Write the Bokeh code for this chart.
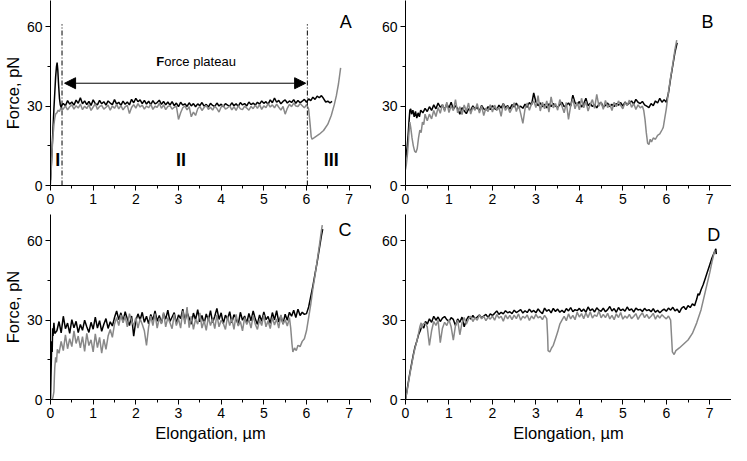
from bokeh.plotting import figure
from bokeh.layouts import gridplot
from bokeh.models import Range1d, FixedTicker, Arrow, NormalHead
from bokeh.core.properties import value
from bokeh.embed import file_html
from bokeh.resources import INLINE

# ---------------- axes / ticks ----------------
X_RANGE = (0, 7.5)
Y_RANGE = (0, 70)
X_TICKS = [0, 1, 2, 3, 4, 5, 6, 7]
X_MINOR = [0.5, 1.5, 2.5, 3.5, 4.5, 5.5, 6.5, 7.5]
Y_TICKS = [0, 30, 60]
Y_MINOR = [15, 45]
X_LABEL = "Elongation, µm"
Y_LABEL = "Force, pN"
STEP = 0.05  # sampling interval (µm) of the plateau readings

# ---------------- Panel A ----------------
A_black_head_x = [0, 0.02, 0.04, 0.06, 0.08, 0.10, 0.12, 0.14, 0.155, 0.17, 0.19, 0.21, 0.23, 0.25, 0.27]
A_black_head_y = [2, 8, 15, 22, 29, 35, 41, 45, 46.5, 44, 38, 33, 30.5, 29.5, 30.5]
A_black_plat_x0 = 0.30
A_black_plat_y = [
    31.0, 30.2, 32.1, 30.8, 31.6, 30.4, 32.3, 31.1, 33.2, 30.9,
    32.0, 30.6, 31.8, 30.3, 32.4, 31.0, 30.5, 32.2, 30.9, 31.7,
    30.4, 32.0, 31.2, 30.6, 32.5, 30.8, 31.5, 30.3, 31.9, 30.7,
    31.6, 30.5, 32.6, 31.3, 33.0, 31.7, 32.4, 31.0, 32.2, 30.8,
    31.9, 30.6, 32.1, 30.9, 31.4, 32.3, 30.7, 31.8, 30.5, 31.6,
    30.4, 31.7, 30.2, 31.2, 29.8, 31.5, 30.4, 30.9, 29.9, 31.3,
    30.1, 31.0, 29.8, 30.9, 30.2, 31.4, 30.0, 30.7, 29.7, 31.1,
    30.3, 29.9, 31.2, 30.1, 30.8, 29.8, 31.0, 30.4, 30.0, 31.3,
    30.2, 30.9, 29.9, 31.4, 30.5, 31.0, 30.1, 31.6, 30.6, 31.2,
    30.4, 31.5, 30.8, 32.0, 31.1, 31.7, 30.7, 32.4, 31.3, 33.1,
    31.5, 32.2, 30.9, 31.8, 32.4, 31.2, 32.0, 31.4, 32.5, 31.1,
    32.2, 31.3, 31.9, 32.6, 31.5, 32.8, 32.1, 33.4, 32.6, 33.8,
    33.2, 34.0, 32.9, 31.6, 31.9, 31.3, 31.8]

A_gray_head_x = [0, 0.02, 0.04, 0.06, 0.08, 0.10, 0.12, 0.15, 0.18, 0.21, 0.24, 0.27]
A_gray_head_y = [0.5, 7, 14, 19, 23, 25.5, 27, 27.5, 28.5, 28, 29.2, 28.6]
A_gray_plat_x0 = 0.30
A_gray_plat_y = [
    29.0, 30.1, 28.6, 29.8, 30.5, 28.9, 30.2, 29.3, 30.8, 28.7,
    30.0, 29.1, 30.6, 28.4, 29.7, 30.9, 28.8, 29.9, 30.3, 28.9,
    29.6, 30.4, 28.5, 30.1, 29.2, 30.7, 29.0, 30.2, 28.6, 29.8,
    30.3, 27.2, 29.5, 30.6, 29.3, 31.0, 29.7, 30.4, 28.9, 30.1,
    29.4, 30.8, 28.8, 30.0, 29.6, 31.1, 29.2, 30.5, 28.7, 29.9,
    30.2, 28.9, 29.6, 30.0, 25.0, 27.5, 29.4, 30.1, 28.6, 29.8,
    26.0, 27.8, 26.5, 29.0, 29.9, 28.4, 29.5, 30.3, 28.8, 29.6,
    28.5, 30.0, 29.1, 27.8, 29.7, 30.4, 28.9, 29.4, 30.1, 28.6,
    29.8, 28.4, 30.2, 29.0, 28.7, 30.0, 29.3, 28.5, 29.9, 29.1,
    30.4, 29.2, 30.6, 28.8, 30.1, 29.5, 31.0, 29.7, 30.5, 29.4,
    30.8, 29.6, 28.5, 29.9, 27.0, 29.2, 30.7, 29.8, 31.2, 30.1,
    29.9, 31.0, 30.2, 29.4, 30.6, 29.0]
A_gray_tail_x = [6.08, 6.11, 6.13, 6.20, 6.30, 6.40, 6.50, 6.58, 6.65, 6.70, 6.75, 6.80]
A_gray_tail_y = [24, 18.5, 17.5, 18.3, 19.4, 20.8, 23.2, 26.5, 30.5, 34, 38.5, 44.5]

# annotations of panel A
A_phase_bounds = [0.27, 6.02]
A_phase_top = 61
A_arrow = (0.33, 5.98, 38.7)
A_plateau_text = (2.48, 47)
A_phase_names = ["I", "II", "III"]
A_phase_x = [0.17, 3.06, 6.58]
A_phase_y = [9.8, 9.8, 9.8]

# ---------------- Panel B ----------------
B_black_head_x = [0, 0.02, 0.04, 0.06, 0.08, 0.10, 0.12, 0.14, 0.17, 0.20, 0.23, 0.26, 0.29, 0.32, 0.35]
B_black_head_y = [10, 12, 15, 19, 24, 28.5, 29, 27, 28.5, 26, 28, 25.5, 27.5, 26, 28.5]
B_black_plat_x0 = 0.40
B_black_plat_y = [
    27.5, 29.2, 28.0, 29.8, 28.4, 30.5, 29.0, 31.2, 29.6, 30.4,
    28.6, 30.9, 29.3, 31.5, 28.8, 30.2, 29.1, 27.0, 29.4, 28.3,
    27.2, 29.0, 28.4, 30.1, 28.9, 29.6, 28.2, 30.3, 29.0, 28.5,
    29.8, 28.7, 30.2, 29.1, 28.6, 30.4, 29.3, 31.0, 29.5, 30.2,
    28.9, 30.6, 29.7, 31.2, 29.4, 30.0, 29.2, 30.8, 29.6, 31.4,
    30.5, 35.0, 31.6, 30.2, 31.3, 29.8, 30.7, 29.4, 30.9, 29.9,
    31.0, 30.1, 29.5, 30.6, 31.5, 29.8, 30.4, 31.2, 30.0, 34.2,
    31.3, 30.5, 31.8, 29.7, 30.9, 33.0, 30.2, 31.1, 29.9, 30.6,
    29.4, 30.8, 31.5, 29.6, 30.3, 31.2, 29.8, 30.7, 29.9, 31.0,
    30.4, 31.4, 30.0, 31.6, 30.5, 31.2, 32.0, 30.8, 32.6, 31.5,
    31.0, 31.8, 30.5, 30.0, 29.5, 31.0, 30.2, 32.0, 31.2, 33.0,
    31.5, 32.5]
B_black_tail_x = [6.00, 6.05, 6.10, 6.15, 6.20, 6.25]
B_black_tail_y = [31.5, 35, 40.5, 45.5, 50.5, 54]

B_gray_head_x = [0, 0.02, 0.04, 0.06, 0.08, 0.10, 0.12, 0.15, 0.18, 0.21, 0.24, 0.27, 0.30, 0.33, 0.36, 0.39, 0.42, 0.45]
B_gray_head_y = [6, 8, 11, 15, 20, 24, 22, 18, 15, 13, 12.5, 14, 18, 21, 20, 24, 23, 27]
B_gray_plat_x0 = 0.50
B_gray_plat_y = [
    24.5, 27.0, 25.2, 28.4, 26.1, 29.5, 27.3, 30.8, 28.0, 31.5,
    27.6, 30.2, 28.3, 32.5, 27.5, 29.8, 26.8, 30.5, 28.1, 31.2,
    27.0, 29.6, 28.5, 31.0, 27.4, 30.1, 26.5, 29.3, 28.0, 30.6,
    27.8, 30.4, 28.6, 29.5, 26.2, 31.0, 28.4, 30.0, 27.6, 29.2,
    31.3, 28.0, 30.5, 27.2, 23.5, 29.0, 31.2, 28.5, 30.9, 32.0,
    29.5, 34.0, 28.2, 31.5, 29.0, 32.0, 27.8, 33.5, 29.4, 31.0,
    28.5, 32.5, 30.0, 27.5, 31.4, 25.0, 30.2, 32.8, 29.0, 31.5,
    28.6, 33.0, 29.4, 31.8, 28.2, 30.6, 32.5, 29.2, 34.5, 30.0,
    31.6, 28.8, 32.2, 29.5, 30.8, 28.4, 31.5, 29.8, 32.0, 30.3,
    29.0, 31.4, 30.2, 32.3, 29.6, 31.0, 28.8, 30.5, 29.4, 30.0]
B_gray_tail_x = [5.48, 5.51, 5.54, 5.57, 5.60, 5.63, 5.66, 5.70, 5.75, 5.80, 5.85, 5.90, 5.93, 5.96,
                 6.00, 6.05, 6.10, 6.15, 6.20, 6.24]
B_gray_tail_y = [28.5, 25, 20, 16, 15.5, 17.5, 16.5, 18, 17.5, 19, 19.5, 21, 22, 25,
                 29, 35.5, 41, 46, 51.5, 55]

# ---------------- Panel C ----------------
C_black_head_x = [0, 0.01, 0.02, 0.03, 0.04, 0.05, 0.06, 0.08, 0.10]
C_black_head_y = [0, 8, 15, 22, 18, 27, 24, 29, 25]
C_black_plat_x0 = 0.15
C_black_plat_y = [
    26.0, 29.5, 25.2, 31.5, 26.8, 28.9, 25.0, 30.2, 27.1, 29.6,
    25.3, 28.4, 26.2, 30.0, 27.5, 25.4, 29.2, 26.6, 31.2, 27.0,
    29.8, 25.8, 28.5, 30.6, 26.9, 29.4, 27.8, 31.0, 33.5, 30.2,
    32.8, 29.5, 33.2, 30.5, 28.0, 31.6, 24.0, 29.8, 32.4, 30.1,
    33.0, 29.2, 31.5, 28.6, 32.2, 30.0, 33.5, 29.6, 31.8, 28.9,
    32.5, 30.4, 33.8, 29.5, 31.2, 32.9, 28.8, 32.0, 30.6, 34.2,
    29.7, 33.0, 30.8, 28.5, 32.7, 30.2, 34.0, 29.4, 31.8, 28.6,
    32.4, 30.0, 33.6, 29.1, 31.5, 34.5, 30.3, 32.8, 28.7, 31.9,
    30.4, 33.2, 29.0, 32.1, 30.7, 28.2, 33.0, 30.0, 31.6, 28.9,
    32.6, 29.8, 33.5, 30.5, 28.4, 32.0, 29.6, 33.1, 30.2, 31.4,
    28.8, 32.9, 30.1, 33.6, 29.3, 31.7, 28.5, 32.3, 30.0, 33.0,
    31.5, 33.8, 31.0, 34.2, 31.8, 33.0, 32.2]
C_black_tail_x = [6.00, 6.05, 6.10, 6.15, 6.20, 6.25, 6.30, 6.35, 6.38]
C_black_tail_y = [32.5, 35, 39, 43, 47.5, 52, 57, 62, 64.5]

C_gray_head_x = [0.04, 0.06, 0.08, 0.09, 0.10, 0.12, 0.14, 0.16]
C_gray_head_y = [0, 1, 3, 8, 12, 16, 14, 19]
C_gray_plat_x0 = 0.20
C_gray_plat_y = [
    17.5, 22.0, 18.5, 24.5, 19.2, 23.0, 20.0, 26.0, 21.2, 24.0,
    19.5, 23.8, 18.2, 25.0, 20.4, 22.6, 18.0, 24.8, 19.6, 23.5,
    17.5, 22.8, 19.0, 24.0, 26.5, 23.5, 28.5, 31.0, 28.0, 32.0,
    29.0, 31.5, 27.5, 32.5, 29.8, 28.0, 31.0, 27.0, 30.5, 28.5,
    26.0, 20.5, 27.5, 31.5, 28.0, 32.5, 27.0, 30.8, 28.6, 33.0,
    27.5, 31.0, 29.0, 26.8, 32.2, 28.0, 30.5, 27.0, 33.5, 28.5,
    35.0, 27.2, 31.5, 26.5, 30.4, 28.5, 32.8, 27.0, 29.8, 26.2,
    31.2, 28.0, 30.5, 26.8, 32.0, 27.5, 30.0, 28.8, 26.5, 31.5,
    28.0, 30.6, 26.5, 32.2, 27.8, 29.5, 26.0, 31.0, 28.4, 30.2,
    27.0, 31.8, 28.5, 26.5, 30.2, 28.0, 32.0, 27.5, 29.8, 26.8,
    31.0, 28.2, 30.5, 27.0, 32.0, 28.5, 30.2, 27.8, 31.0]
C_gray_tail_x = [5.63, 5.66, 5.68, 5.72, 5.76, 5.80, 5.85, 5.90, 5.95, 6.00, 6.05, 6.10,
                 6.15, 6.20, 6.25, 6.30, 6.35, 6.37]
C_gray_tail_y = [27, 21, 18, 19.5, 18.5, 20.5, 20, 22, 23, 26, 31, 36,
                 42, 47, 52.5, 58, 64, 66]

# ---------------- Panel D ----------------
D_black_head_x = [0, 0.03, 0.06, 0.10, 0.14, 0.18, 0.22, 0.26, 0.30, 0.34, 0.38, 0.42, 0.46]
D_black_head_y = [0, 3, 6, 10, 13.5, 17, 20, 22, 24.5, 26, 28, 27, 29.5]
D_black_plat_x0 = 0.50
D_black_plat_y = [
    28.5, 30.5, 29.2, 31.5, 30.0, 31.2, 29.5, 30.8, 31.4, 30.2,
    29.6, 31.0, 30.3, 28.0, 30.5, 29.2, 31.2, 27.5, 30.0, 31.5,
    30.4, 31.8, 30.6, 31.2, 32.0, 30.9, 31.6, 32.2, 31.0, 32.4,
    31.8, 32.6, 33.5, 32.2, 33.0, 32.4, 33.6, 32.8, 33.2, 32.5,
    33.8, 32.9, 33.4, 34.0, 32.7, 33.6, 32.9, 34.2, 33.1, 33.7,
    32.8, 34.3, 33.2, 32.5, 34.6, 33.4, 34.0, 32.8, 34.5, 33.3,
    34.2, 33.0, 33.8, 32.9, 34.4, 33.5, 34.8, 33.2, 34.0, 33.6,
    34.5, 33.3, 34.2, 33.0, 35.0, 33.6, 34.3, 33.1, 34.7, 33.8,
    33.4, 34.6, 33.2, 34.0, 35.2, 33.5, 34.4, 33.0, 34.8, 33.6,
    34.2, 33.4, 35.0, 33.7, 34.3, 33.1, 34.6, 33.9, 34.1, 33.3,
    34.5, 33.6, 34.0, 33.2, 34.4, 33.0, 33.8, 32.8, 33.6, 34.2,
    33.4, 34.6, 33.8, 34.9, 33.5, 34.2, 32.9, 34.5, 35.2, 34.0]
D_black_tail_x = [6.50, 6.55, 6.60, 6.65, 6.70, 6.73, 6.76, 6.80, 6.85, 6.90, 6.95, 7.00, 7.05, 7.10, 7.14, 7.15]
D_black_tail_y = [35.5, 34.8, 36.2, 35.5, 38, 40, 39.5, 41.5, 43.5, 46, 48.5, 51, 53.5, 55.5, 57, 55]

D_gray_head_x = [0, 0.03, 0.06, 0.10, 0.14, 0.18, 0.22, 0.26, 0.30, 0.33, 0.36, 0.38, 0.40]
D_gray_head_y = [0, 2.5, 5.5, 9.5, 13, 16.5, 19.5, 22, 25, 27.5, 29, 27, 28.5]
D_gray_plat1_x0 = 0.45
D_gray_plat1_y = [
    29.0, 27.5, 20.5, 26.0, 29.5, 28.0, 30.0, 21.5, 27.0, 29.2,
    28.0, 30.2, 27.5, 22.5, 28.0, 30.0, 24.5, 29.0, 31.0, 28.5,
    30.5, 31.5, 29.5, 31.0, 30.0, 32.0, 30.5, 31.5, 29.8, 31.2,
    30.4, 31.6, 30.0, 32.2, 30.8, 31.5, 29.6, 32.0, 30.5, 31.8,
    30.2, 31.9, 30.6, 32.4, 30.0, 31.5, 30.8, 32.0, 29.9, 31.6,
    30.5, 32.2, 30.9, 31.4, 30.2, 31.8, 30.6]
D_gray_drop_x = [3.27, 3.28, 3.32, 3.36, 3.40, 3.45, 3.50, 3.55, 3.60]
D_gray_drop_y = [24, 18.5, 18, 19.5, 20.5, 23, 25.5, 28.5, 30]
D_gray_plat2_x0 = 3.65
D_gray_plat2_y = [
    31.5, 29.8, 32.4, 30.5, 31.8, 30.2, 33.0, 31.2, 32.5, 30.6,
    32.8, 31.0, 33.2, 30.8, 32.0, 31.4, 33.5, 30.9, 32.2, 31.0,
    32.6, 30.5, 31.8, 30.2, 32.4, 31.0, 32.9, 30.4, 31.6, 30.8,
    32.2, 30.6, 31.4, 32.5, 30.3, 31.8, 32.8, 31.0, 32.2, 30.7,
    31.5, 32.6, 30.4, 31.9, 30.8, 32.1, 31.2, 30.5, 31.6, 30.0]
D_gray_tail_x = [6.12, 6.14, 6.18, 6.22, 6.30, 6.40, 6.50, 6.60, 6.70, 6.80, 6.90, 7.00, 7.05, 7.10, 7.12]
D_gray_tail_y = [24, 18, 17, 18.5, 19.5, 21, 22.5, 25, 29, 34, 41, 48, 52, 55.5, 56.5]

PANEL_LETTERS = ["A", "B", "C", "D"]
LETTER_POS = [(6.92, 62), (6.95, 62), (6.90, 64), (7.09, 62.2)]

BLACK = "#000000"
GRAY = "#888888"
FONT = "Liberation Sans"
LINE_W = 1.5


def plateau(x0, ys):
    return [round(x0 + STEP * i, 4) for i in range(len(ys))], list(ys)


def trace(*parts):
    xs, ys = [], []
    for a, b in parts:
        if isinstance(a, list):
            px, py = a, b
        else:
            px, py = plateau(a, b)
        xs += px
        ys += py
    return xs, ys


def make_fig(width, height, bl, br, bt, bb, xlabel, ylabel):
    p = figure(width=width, height=height, output_backend="svg", toolbar_location=None,
               x_range=Range1d(*X_RANGE), y_range=Range1d(*Y_RANGE),
               min_border_left=bl, min_border_right=br, min_border_top=bt, min_border_bottom=bb)
    p.outline_line_color = None
    p.grid.visible = False
    p.background_fill_color = "white"
    p.border_fill_color = "white"
    for ax, ticks, minor in ((p.xaxis, X_TICKS, X_MINOR), (p.yaxis, Y_TICKS, Y_MINOR)):
        ax.ticker = FixedTicker(ticks=ticks, minor_ticks=minor)
        ax.axis_line_color = BLACK
        ax.axis_line_width = 1
        ax.major_tick_in = 0
        ax.major_tick_out = 5
        ax.minor_tick_in = 0
        ax.minor_tick_out = 3
        ax.major_tick_line_color = BLACK
        ax.minor_tick_line_color = BLACK
        ax.major_label_text_font = FONT
        ax.major_label_text_font_size = "14px"
        ax.major_label_text_color = BLACK
        ax.major_label_standoff = 3
        ax.axis_label_text_font = FONT
        ax.axis_label_text_font_size = "16.5px"
        ax.axis_label_text_font_style = "normal"
        ax.axis_label_text_color = BLACK
    p.xaxis.axis_label = xlabel
    p.yaxis.axis_label = ylabel
    p.xaxis.axis_label_standoff = 3
    p.yaxis.axis_label_standoff = 2
    return p


def draw(p, black, gray, letter, pos):
    p.line(black[0], black[1], line_color=BLACK, line_width=LINE_W, line_join="bevel")
    p.line(gray[0], gray[1], line_color=GRAY, line_width=LINE_W, line_join="bevel")
    p.text(x=[pos[0]], y=[pos[1]], text=[letter], text_font=value(FONT),
           text_font_size="18px", text_align="center", text_baseline="middle", text_color=BLACK)


# frames: 326 x 185 px
pA = make_fig(375, 210, 44, 5, 0, 25, None, Y_LABEL)
pB = make_fig(356, 210, 30, 0, 0, 25, None, None)
pC = make_fig(375, 235, 44, 5, 4, 46, X_LABEL, Y_LABEL)
pD = make_fig(356, 235, 30, 0, 4, 46, X_LABEL, None)

draw(pA,
     trace((A_black_head_x, A_black_head_y), (A_black_plat_x0, A_black_plat_y)),
     trace((A_gray_head_x, A_gray_head_y), (A_gray_plat_x0, A_gray_plat_y), (A_gray_tail_x, A_gray_tail_y)),
     PANEL_LETTERS[0], LETTER_POS[0])
draw(pB,
     trace((B_black_head_x, B_black_head_y), (B_black_plat_x0, B_black_plat_y), (B_black_tail_x, B_black_tail_y)),
     trace((B_gray_head_x, B_gray_head_y), (B_gray_plat_x0, B_gray_plat_y), (B_gray_tail_x, B_gray_tail_y)),
     PANEL_LETTERS[1], LETTER_POS[1])
draw(pC,
     trace((C_black_head_x, C_black_head_y), (C_black_plat_x0, C_black_plat_y), (C_black_tail_x, C_black_tail_y)),
     trace((C_gray_head_x, C_gray_head_y), (C_gray_plat_x0, C_gray_plat_y), (C_gray_tail_x, C_gray_tail_y)),
     PANEL_LETTERS[2], LETTER_POS[2])
draw(pD,
     trace((D_black_head_x, D_black_head_y), (D_black_plat_x0, D_black_plat_y), (D_black_tail_x, D_black_tail_y)),
     trace((D_gray_head_x, D_gray_head_y), (D_gray_plat1_x0, D_gray_plat1_y), (D_gray_drop_x, D_gray_drop_y),
           (D_gray_plat2_x0, D_gray_plat2_y), (D_gray_tail_x, D_gray_tail_y)),
     PANEL_LETTERS[3], LETTER_POS[3])

# Panel A annotations
pA.segment(x0=A_phase_bounds, y0=[0, 0], x1=A_phase_bounds, y1=[A_phase_top, A_phase_top],
           line_color=BLACK, line_width=1, line_dash="5 2 1 2")
pA.add_layout(Arrow(x_start=A_arrow[0], y_start=A_arrow[2], x_end=A_arrow[1], y_end=A_arrow[2],
                    line_color=BLACK, line_width=1,
                    start=NormalHead(size=11, fill_color=BLACK, line_color=BLACK),
                    end=NormalHead(size=11, fill_color=BLACK, line_color=BLACK)))
pA.text(x=[A_plateau_text[0]], y=[A_plateau_text[1]], text=["F"], text_font=value(FONT),
        text_font_size="13px", text_font_style="bold", text_baseline="middle", text_color=BLACK)
pA.text(x=[A_plateau_text[0]], y=[A_plateau_text[1]], text=["orce plateau"], text_font=value(FONT),
        text_font_size="13px", text_baseline="middle", x_offset=8, text_color=BLACK)
pA.text(x=A_phase_x, y=A_phase_y, text=A_phase_names, text_font=value(FONT),
        text_font_size="18px", text_font_style="bold", text_align="center", text_baseline="middle",
        text_color=BLACK)

grid = gridplot([[pA, pB], [pC, pD]], toolbar_location=None)

open("out.html", "w").write(file_html(grid, INLINE))
